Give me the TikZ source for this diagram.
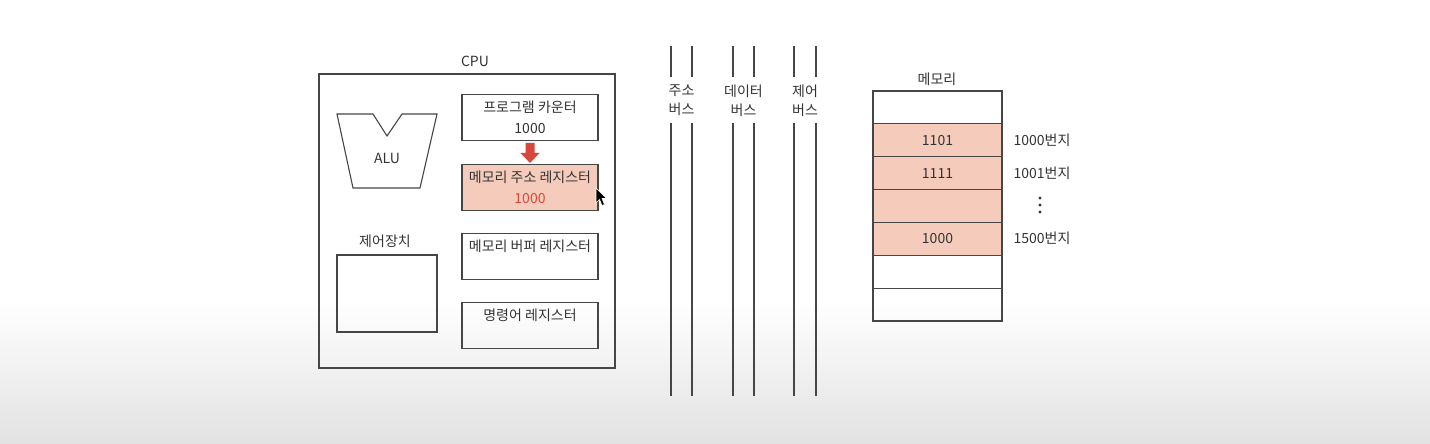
\documentclass[tikz,border=0pt]{standalone}
\usepackage{fontspec}
\setmainfont{Noto Sans CJK KR}
\definecolor{cellpink}{RGB}{245,204,188}
\definecolor{arrowred}{RGB}{214,72,58}
\definecolor{boxline}{RGB}{70,70,70}
\definecolor{bgdark}{RGB}{226,226,226}
\begin{document}
\begin{tikzpicture}[
  x=0.5pt, y=-0.5pt,
  every node/.style={font=\fontsize{7pt}{10.5pt}\selectfont, text=black!80},
  line/.style={draw=boxline, line width=0.55pt},
  register/.style={line, rectangle, inner sep=0pt, minimum width=68pt, minimum height=22.75pt, align=center},
  cell/.style={line, rectangle, inner sep=0pt, minimum width=64.5pt, minimum height=16.43pt},
  marked/.style={cell, fill=cellpink},
  buslabel/.style={align=center, font=\fontsize{7pt}{9.5pt}\selectfont}
]
  % background
  \useasboundingbox (0,0) rectangle (1430,444);
  \fill[white] (0,0) rectangle (1430,444);
  \shade[top color=white, bottom color=bgdark] (0,300) rectangle (1430,444);

  % CPU
  \node[line, rectangle, inner sep=0pt, minimum width=148pt, minimum height=147pt] (cpu) at (467,221) {};
  \node (cpulabel) at (475,61) {CPU};

  \draw[line] (337,114) -- (373,114) -- (387,136) -- (402,114) -- (437,114)
    -- (420,188) -- (353,188) -- cycle;
  \node (alu) at (387,158) {ALU};

  \node (ctrllabel) at (385,241) {제어장치};
  \node[line, rectangle, inner sep=0pt, minimum width=50pt, minimum height=38.5pt] (ctrl) at (387,293.5) {};

  \node[register] (pc) at (530,117.5) {프로그램 카운터\\1000};
  \node[register, fill=cellpink] (mar) at (530,187.5) {메모리 주소 레지스터\\\textcolor{arrowred}{1000}};
  \node[register] (mbr) at (530,256.5) {메모리 버퍼 레지스터\\~};
  \node[register] (ir) at (530,325.5) {명령어 레지스터\\~};

  \fill[arrowred] (525.5,143) -- (534.5,143) -- (534.5,153) -- (539.5,153) -- (530,163)
    -- (520.5,153) -- (525.5,153) -- cycle;

  \draw[fill=black, draw=white, line width=0.3pt] (596,188) -- (596,203) -- (599.5,199.5)
    -- (602,205.5) -- (604.5,204.5) -- (602,198.5) -- (606.5,198.5) -- cycle;

  % buses
  \foreach \x in {671,692,733,754,794,816} {
    \draw[line] (\x,46) -- (\x,77);
    \draw[line] (\x,123) -- (\x,396);
  }
  \node[buslabel] (abus) at (681.5,100.5) {주소\\버스};
  \node[buslabel] (dbus) at (743.5,100.5) {데이터\\버스};
  \node[buslabel] (cbus) at (805,100.5) {제어\\버스};

  % memory
  \node (memlabel) at (937,79) {메모리};
  \foreach \i/\st/\val in {0/cell/{},1/marked/1101,2/marked/1111,3/marked/{},4/marked/1000,5/cell/{},6/cell/{}}
    \node[\st] (mem\i) at (937.5,{91+32.86*(\i+0.5)}) {\val};

  \node (adr1) at (1042,140) {1000번지};
  \node (adr2) at (1042,173) {1001번지};
  \foreach \y in {198,205,212}
    \fill[black!80] (1040,\y) circle (0.8pt);
  \node (adr4) at (1042,238) {1500번지};
\end{tikzpicture}
\end{document}
